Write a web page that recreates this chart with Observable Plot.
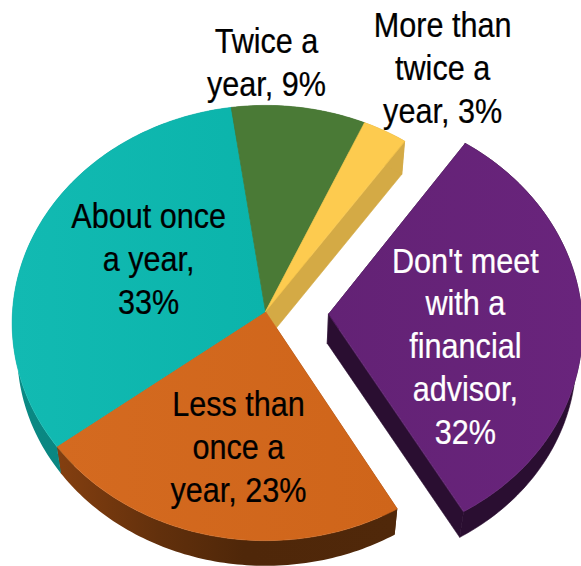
<!DOCTYPE html>
<html>
<head>
<meta charset="utf-8">
<script src="https://cdn.jsdelivr.net/npm/d3@7"></script>
<script src="https://cdn.jsdelivr.net/npm/@observablehq/plot@0.6"></script>
<style>html,body{margin:0;padding:0;background:#fff}svg{display:block}</style>
</head>
<body>
<div id="chart"></div>
<script>
// Survey shares, clockwise from the detached slice
const categories = [
  "Don't meet with a financial advisor",
  "Less than once a year",
  "About once a year",
  "Twice a year",
  "More than twice a year"
];
const shares = [32, 23, 33, 9, 3];
const labelPrefixes = [
  "Don't meet\nwith a\nfinancial\nadvisor,\n",
  "Less than\nonce a\nyear, ",
  "About once\na year,\n",
  "Twice a\nyear, ",
  "More than\ntwice a\nyear, "
];

// Appearance of each slice, in the same order
const topFills = ["url(#purpleTop)", "url(#orangeTop)", "url(#tealTop)", "#4a7a36", "#fdcb4f"];
const rimFills = ["#2a0e31", "url(#orangeRim)", "url(#tealRim)", "#35592a", "#d4aa45"];
const cutFills = ["#2a0e31", "#4f2709", "#0a7f7a", "#35592a", "#d4aa45"];
const labelFills = ["#ffffff", "#000000", "#000000", "#000000", "#000000"];
const labelX = [0.79, -0.107, -0.462, 0.004, 0.70];
const labelY = [0.152, 0.617, -0.249, -1.157, -1.129];
const explode = [0.25, 0, 0, 0, 0];

// Pie layout: start angle in degrees, perspective strength, extrusion
const startAngle = 35;
const perspective = 0.0529;
const depth = 0.02;
const vanishingY = 6.86;

const width = 581, height = 566;

// Perspective projection of a point on the pie's plane
function project(u, v) {
  const s = 1 / (1 - perspective * v);
  return [u * s, v * s];
}
// The matching point on the underside of the pie
function lower([x, y]) {
  return [x - depth * x, y + depth * (vanishingY - y)];
}

const total = d3.sum(shares);
const cumulative = d3.cumsum(shares);
const slices = shares.map((share, i) => {
  const a1 = startAngle + (cumulative[i] - share) / total * 360;
  const a2 = startAngle + cumulative[i] / total * 360;
  const mid = (a1 + a2) / 2 * Math.PI / 180;
  const ox = explode[i] * Math.sin(mid);
  const oy = -explode[i] * Math.cos(mid);
  const steps = Math.ceil(a2 - a1);
  const arc = d3.range(steps + 1).map((k) => {
    const a = (a1 + (a2 - a1) * k / steps) * Math.PI / 180;
    return project(ox + Math.sin(a), oy - Math.cos(a));
  });
  return {apex: project(ox, oy), arc, i};
});

const shape = (points, fill, stroke) =>
  Plot.line(points, {
    x: (d) => d[0],
    y: (d) => d[1],
    curve: "linear-closed",
    fill,
    stroke: stroke ?? "none",
    strokeWidth: 0.6
  });

// Gradient definitions shared by the slice fills
function gradient(defs, id, stops) {
  const g = defs.append("linearGradient").attr("id", id).attr("x1", 0).attr("x2", 1).attr("y1", 0).attr("y2", 0);
  stops.forEach(([o, c]) => g.append("stop").attr("offset", o).attr("stop-color", c));
}
const gradients = () => {
  const defs = d3.create("svg:defs");
  gradient(defs, "purpleTop", [[0, "#632275"], [1, "#69247c"]]);
  gradient(defs, "orangeTop", [[0, "#d46a20"], [1, "#cf651a"]]);
  gradient(defs, "tealTop", [[0, "#12bab2"], [1, "#0bb4ab"]]);
  gradient(defs, "orangeRim", [[0, "#843f10"], [0.3, "#62300c"], [0.55, "#4f2709"], [1, "#50280a"]]);
  gradient(defs, "tealRim", [[0, "#0a8a85"], [1, "#0a7772"]]);
  return defs.node();
};

// The purple side wall is one flat colour, so its pieces are stroked to close the joins
const wallStroke = (i) => (i === 0 ? rimFills[0] : i === 4 ? rimFills[4] : undefined);
const rims = slices.map((s, i) =>
  shape([...s.arc, ...s.arc.map(lower).reverse()], rimFills[i], wallStroke(i)));
const cuts = slices.flatMap((s, i) => [
  shape([s.apex, s.arc[0], lower(s.arc[0]), lower(s.apex)], cutFills[i], wallStroke(i)),
  shape([s.apex, s.arc[s.arc.length - 1], lower(s.arc[s.arc.length - 1]), lower(s.apex)], cutFills[i], wallStroke(i))
]);
const tops = slices.map((s, i) =>
  shape([s.apex, ...s.arc], topFills[i], topFills[i]));

const labels = categories.map((category, i) => ({
  category,
  text: `${labelPrefixes[i]}${shares[i]}%`,
  x: labelX[i],
  y: labelY[i],
  fill: labelFills[i]
}));

// The lettering is narrowed sideways, as in the slide it belongs to
const narrowText = (index, scales, values, dimensions, context, next) => {
  const g = next(index, scales, values, dimensions, context);
  d3.select(g).selectAll("text").attr("transform", function () {
    return `${this.getAttribute("transform")} scale(0.85,1)`;
  });
  return g;
};

const chart = Plot.plot({
  width,
  height,
  margin: 0,
  x: {axis: null, domain: [-265 / 253, 316 / 253], range: [0, width]},
  y: {axis: null, domain: [-311 / 217, 255 / 217], range: [0, height]},
  color: {type: "identity"},
  style: {background: "#fff", overflow: "hidden"},
  marks: [
    gradients,
    ...cuts,
    ...rims,
    ...tops,
    Plot.text(labels, {
      x: "x",
      y: "y",
      text: "text",
      fill: "fill",
      stroke: "fill",
      strokeWidth: 0.25,
      fontSize: 36,
      lineHeight: 1.19,
      lineAnchor: "middle",
      textAnchor: "middle",
      fontFamily: "Liberation Sans",
      render: narrowText
    })
  ]
});
document.getElementById("chart").append(chart);
</script>
</body>
</html>
